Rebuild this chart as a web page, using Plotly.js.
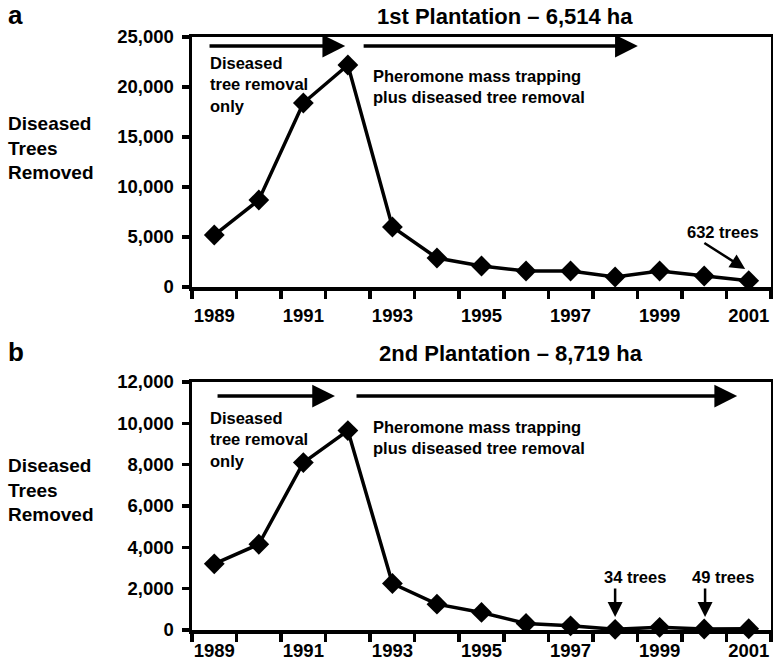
<!DOCTYPE html>
<html>
<head>
<meta charset="utf-8">
<script src="https://cdn.plot.ly/plotly-3.0.1.min.js"></script>
<style>html,body{margin:0;padding:0;background:#fff;}#chart{width:773px;height:663px;}</style>
</head>
<body>
<div id="chart"></div>
<script>
var years = [1989,1990,1991,1992,1993,1994,1995,1996,1997,1998,1999,2000,2001];
var plantation1 = [5200,8700,18400,22200,6000,2900,2100,1600,1600,1000,1600,1100,632];
var plantation2 = [3200,4150,8100,9650,2250,1250,850,320,200,34,130,49,60];
var yearLabels = [1989,1991,1993,1995,1997,1999,2001];
var boundaries = [1988.5,1989.5,1990.5,1991.5,1992.5,1993.5,1994.5,1995.5,1996.5,1997.5,1998.5,1999.5,2000.5,2001.5];
var title1 = '1st Plantation \u2013 6,514 ha';
var title2 = '2nd Plantation \u2013 8,719 ha';

var FONT = 'Liberation Sans, Arial, sans-serif';

function trace(y, xa, ya) {
  return {
    x: years, y: y, xaxis: xa, yaxis: ya, type: 'scatter', mode: 'lines+markers',
    line: {color: '#000', width: 3.5},
    marker: {symbol: 'diamond', size: 16, color: '#000'},
    cliponaxis: false, hoverinfo: 'x+y'
  };
}

function xaxis(anchor, standoff) {
  return {
    anchor: anchor, range: [1988.5, 2001.5], tickmode: 'array', tickvals: yearLabels,
    ticktext: yearLabels.map(String), ticks: '', ticklabelstandoff: standoff,
    tickfont: {family: FONT, size: 18.5, weight: 'bold', color: '#000'},
    showline: true, linewidth: 3.5, linecolor: '#000', mirror: true,
    showgrid: false, zeroline: false,
    minor: {tickmode: 'array', tickvals: boundaries, ticks: 'outside', ticklen: 8, tickwidth: 3.5, tickcolor: '#000', showgrid: false}
  };
}
function yaxis(anchor, domain, max, dtick) {
  return {
    anchor: anchor, domain: domain, range: [0, max], dtick: dtick, tick0: 0,
    tickformat: ',d', ticks: 'outside', ticklen: 7, tickwidth: 3.5, tickcolor: '#000',
    ticklabelstandoff: 4,
    tickfont: {family: FONT, size: 18.5, weight: 'bold', color: '#000'},
    showline: true, linewidth: 3.5, linecolor: '#000', mirror: true,
    showgrid: false, zeroline: false
  };
}

function arrow(xr, yr, x, y, ax, ay, w, s) {
  return {xref: xr, yref: yr, axref: xr, ayref: yr, x: x, y: y, ax: ax, ay: ay, text: '',
    showarrow: true, arrowhead: 2, arrowsize: s, arrowwidth: w, arrowcolor: '#000'};
}
function label(xr, yr, x, y, text, size, xanchor, yanchor, align) {
  return {xref: xr, yref: yr, x: x, y: y, text: text, showarrow: false, xanchor: xanchor,
    yanchor: yanchor, align: align || 'left', font: {family: FONT, size: size, weight: 'bold', color: '#000'}};
}

var annotations = [
  label('paper', 'paper', -0.321, 1.037, 'a', 26, 'left', 'middle'),
  label('paper', 'paper', -0.321, 0.469, 'b', 26, 'left', 'middle'),
  label('paper', 'paper', 0.541, 1.034, title1, 22, 'center', 'middle'),
  label('paper', 'paper', 0.551, 0.467, title2, 22, 'center', 'middle'),
  label('paper', 'paper', -0.322, 0.813, 'Diseased<br>Trees<br>Removed', 19, 'left', 'middle'),
  label('paper', 'paper', -0.322, 0.236, 'Diseased<br>Trees<br>Removed', 19, 'left', 'middle'),
  // panel a
  arrow('x', 'y', 1991.94, 24100, 1988.86, 24100, 3.5, 1.3),
  arrow('x', 'y', 1998.51, 24100, 1992.32, 24100, 3.5, 1.3),
  label('x', 'y', 1988.86, 23500, 'Diseased<br>tree removal<br>only', 16.5, 'left', 'top'),
  label('x', 'y', 1992.52, 22200, 'Pheromone mass trapping<br>plus diseased tree removal', 16.5, 'left', 'top'),
  label('x', 'y', 2000.42, 5500, '632 trees', 16.5, 'center', 'middle'),
  arrow('x', 'y', 2000.92, 1800, 1999.97, 4500, 2.5, 1.2),
  // panel b
  arrow('x2', 'y2', 1991.71, 11320, 1989.04, 11320, 3.5, 1.3),
  arrow('x2', 'y2', 2000.74, 11320, 1992.16, 11320, 3.5, 1.3),
  label('x2', 'y2', 1988.86, 10800, 'Diseased<br>tree removal<br>only', 16.5, 'left', 'top'),
  label('x2', 'y2', 1992.52, 10350, 'Pheromone mass trapping<br>plus diseased tree removal', 16.5, 'left', 'top'),
  label('x2', 'y2', 1998.45, 2560, '34 trees', 16.5, 'center', 'middle'),
  arrow('x2', 'y2', 1998.0, 630, 1998.0, 2080, 2.5, 1.2),
  label('x2', 'y2', 2000.42, 2560, '49 trees', 16.5, 'center', 'middle'),
  arrow('x2', 'y2', 2000.02, 630, 2000.02, 2080, 2.5, 1.2)
];

var layout = {
  width: 773, height: 663,
  margin: {l: 192, r: 2, t: 37, b: 33, pad: 0},
  paper_bgcolor: '#fff', plot_bgcolor: '#fff',
  showlegend: false,
  font: {family: FONT, color: '#000'},
  xaxis: xaxis('y', 9),
  yaxis: yaxis('x', [0.5784, 1], 25000, 5000),
  xaxis2: xaxis('y2', 1),
  yaxis2: yaxis('x2', [0, 0.4182], 12000, 2000),
  annotations: annotations
};

Plotly.newPlot('chart', [trace(plantation1, 'x', 'y'), trace(plantation2, 'x2', 'y2')], layout, {displayModeBar: false, staticPlot: true});
</script>
</body>
</html>
